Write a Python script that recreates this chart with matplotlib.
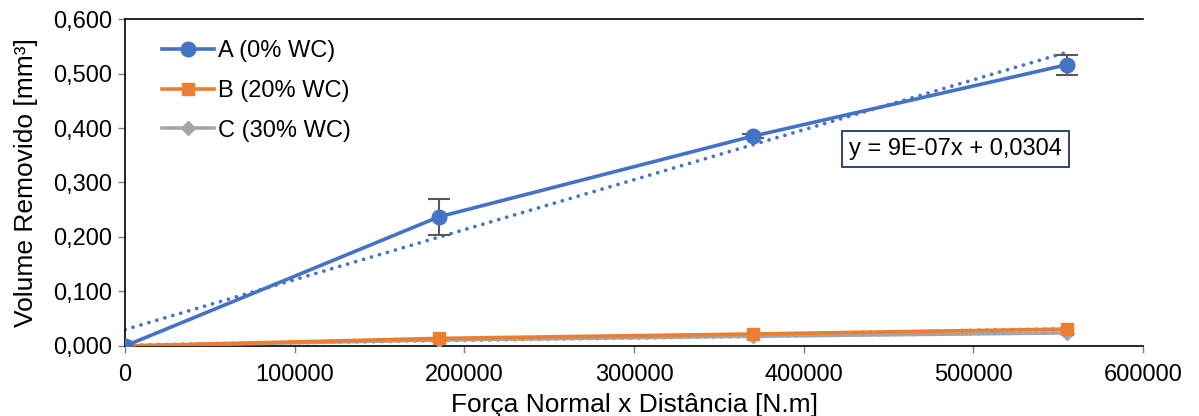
import matplotlib
matplotlib.use("Agg")
import matplotlib.pyplot as plt
import numpy as np
from matplotlib.ticker import FuncFormatter

plt.rcParams["font.family"] = ["Liberation Sans", "DejaVu Sans"]

# data
distances = [0, 185000, 370000, 555000]
volume_a = [0.0, 0.237, 0.385, 0.516]
volume_b = [0.0, 0.014, 0.022, 0.031]
volume_c = [0.0, 0.011, 0.018, 0.024]
error_a = [0.0, 0.033, 0.004, 0.018]
series_labels = ["A (0% WC)", "B (20% WC)", "C (30% WC)"]
equation_text = "y = 9E-07x + 0,0304"

colors = ["#4472C4", "#ED7D31", "#A5A5A5"]
markers = ["o", "s", "D"]
marker_sizes = [10.5, 9, 7.5]

fig = plt.figure(figsize=(11.99, 4.16), dpi=100)
ax = fig.add_axes([0.1043, 0.1683, 0.849, 0.786])

x = np.array(distances, dtype=float)
all_series = [volume_a, volume_b, volume_c]

# dotted linear trendlines
for ys, color in zip(all_series, colors):
    slope, intercept = np.polyfit(x, ys, 1)
    xt = np.array([x.min(), x.max()])
    ax.plot(xt, slope * xt + intercept, linestyle=(0, (0.01, 2.2)), color=color,
            linewidth=2.7, dash_capstyle="round", zorder=2)

ax.errorbar(x, volume_a, yerr=error_a, fmt="none", ecolor="#595959",
            elinewidth=1.5, capsize=8, capthick=1.5, zorder=3)

for ys, color, marker, ms, label in zip(all_series[::-1], colors[::-1], markers[::-1],
                                        marker_sizes[::-1], series_labels[::-1]):
    ax.plot(x, ys, color=color, marker=marker, markersize=ms, linewidth=2.6,
            label=label, zorder=4)

handles, labels = ax.get_legend_handles_labels()
ax.legend(handles[::-1], labels[::-1], loc="upper left", bbox_to_anchor=(0.015, 1.0),
          frameon=False, fontsize=17, handlelength=2.2, handletextpad=0.2,
          labelspacing=0.75)

ax.text(0.816, 0.602, equation_text, transform=ax.transAxes, ha="center", va="center",
        fontsize=17, bbox=dict(boxstyle="square,pad=0.3", facecolor="white",
                               edgecolor="#203864", linewidth=1.3))

ax.set_xlim(0, 600000)
ax.set_ylim(0, 0.6)
ax.set_xticks(np.arange(0, 600001, 100000))
ax.set_yticks(np.arange(0, 0.61, 0.1))
ax.xaxis.set_major_formatter(FuncFormatter(lambda v, p: f"{int(v)}"))
ax.yaxis.set_major_formatter(FuncFormatter(lambda v, p: f"{v:.3f}".replace(".", ",")))
ax.tick_params(axis="both", labelsize=17, length=5, color="#7f7f7f", width=1)
ax.tick_params(axis="x", pad=8)
ax.tick_params(axis="y", pad=4)

ax.spines["right"].set_visible(False)
for side in ["top", "bottom", "left"]:
    ax.spines[side].set_color("black")
    ax.spines[side].set_linewidth(1.2)

ax.set_xlabel("Força Normal x Distância [N.m]", fontsize=19, labelpad=5)
ax.set_ylabel("Volume Removido [mm³]", fontsize=19, labelpad=11)

fig.savefig("out.png", dpi=100)
